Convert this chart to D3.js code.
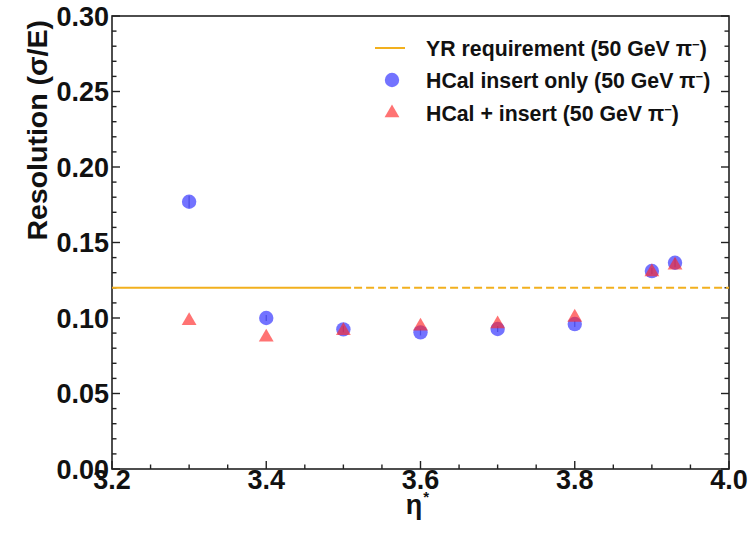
<!DOCTYPE html>
<html>
<head>
<meta charset="utf-8">
<script src="https://cdn.jsdelivr.net/npm/d3@7"></script>
<style>
  html, body { margin: 0; padding: 0; background: #fff; }
  svg { display: block; }
  text { font-family: "Liberation Sans", Arial, Helvetica, sans-serif; font-weight: bold; fill: #111; }
</style>
</head>
<body>
<script>
// Pseudorapidity bins
const etaValues = [3.3, 3.4, 3.5, 3.6, 3.7, 3.8, 3.9, 3.93];
// Energy resolution, HCal insert alone
const insertOnly = [0.177, 0.100, 0.0925, 0.0905, 0.0927, 0.0960, 0.1311, 0.1366];
const insertOnlyErr = [0.004, 0.002, 0.002, 0.002, 0.002, 0.002, 0.002, 0.003];
// Energy resolution, HCal + insert combined
const combined = [0.0982, 0.0872, 0.0916, 0.0945, 0.0960, 0.1004, 0.1305, 0.1349];
// Yellow Report requirement: solid over the covered range, dashed beyond
const yrLevel = 0.12;
const yrSolid = [3.2, 3.51];
const yrDashed = [3.51, 4.0];
// Axis ticks
const xTicks = [3.2, 3.4, 3.6, 3.8, 4.0];
const yTicks = [0.00, 0.05, 0.10, 0.15, 0.20, 0.25, 0.30];
const legendLabels = ["YR requirement (50 GeV ", "HCal insert only (50 GeV ", "HCal + insert (50 GeV "];

const W = 748, H = 538;
const mLeft = 112, mRight = 729, mTop = 16, mBottom = 469;

const svg = d3.select("body").append("svg").attr("width", W).attr("height", H);

const x = d3.scaleLinear().domain([3.2, 4.0]).range([mLeft, mRight]);
const y = d3.scaleLinear().domain([0, 0.30]).range([mBottom, mTop]);

const blue = "rgba(40,40,255,0.65)";
const red = "rgba(255,40,40,0.65)";
const gold = "#f2b01e";

// Frame
svg.append("rect").attr("x", mLeft).attr("y", mTop).attr("width", mRight - mLeft).attr("height", mBottom - mTop)
  .attr("fill", "none").attr("stroke", "#222").attr("stroke-width", 1.6);

// Inward tick marks (major + minor), left and right sides
const yMinor = d3.range(0, 0.3001, 0.01);
const xMinor = d3.range(3.2, 4.0001, 0.05);
const isMajorY = v => Math.abs(v / 0.05 - Math.round(v / 0.05)) < 1e-6;
const isMajorX = v => Math.abs((v - 3.2) / 0.2 - Math.round((v - 3.2) / 0.2)) < 1e-6;

const ticks = svg.append("g").attr("stroke", "#222").attr("stroke-width", 1.4);
yMinor.forEach(v => {
  const len = isMajorY(v) ? 8 : 4.5;
  ticks.append("line").attr("x1", mLeft).attr("x2", mLeft + len).attr("y1", y(v)).attr("y2", y(v));
  ticks.append("line").attr("x1", mRight).attr("x2", mRight - len).attr("y1", y(v)).attr("y2", y(v));
});
xMinor.forEach(v => {
  const len = isMajorX(v) ? 8 : 4.5;
  ticks.append("line").attr("x1", x(v)).attr("x2", x(v)).attr("y1", mBottom).attr("y2", mBottom - len);
});

// Tick labels
const tickFmt = d3.format(".2f");
svg.append("g").selectAll("text").data(yTicks).join("text")
  .attr("x", mLeft - 3).attr("y", d => y(d)).attr("dy", "0.36em")
  .attr("text-anchor", "end").attr("font-size", 27)
  .text(d => tickFmt(d));
svg.append("g").selectAll("text").data(xTicks).join("text")
  .attr("x", d => x(d)).attr("y", mBottom + 10).attr("dy", "0.36em")
  .attr("text-anchor", "middle").attr("font-size", 27)
  .text(d => d3.format(".1f")(d));

// Axis titles
svg.append("text").attr("transform", `translate(37,${mTop + 4}) rotate(-90)`)
  .attr("text-anchor", "end").attr("font-size", 28.5).attr("dy", "0.36em")
  .text("Resolution (σ/E)");
const xt = svg.append("text").attr("x", (mLeft + mRight) / 2 - 3).attr("y", 514)
  .attr("text-anchor", "middle").attr("font-size", 27);
xt.append("tspan").text("η");
xt.append("tspan").attr("dx", 1).attr("dy", -12).attr("font-size", 15).text("*");

// Requirement line
svg.append("line").attr("x1", x(yrSolid[0])).attr("x2", x(yrSolid[1]))
  .attr("y1", y(yrLevel)).attr("y2", y(yrLevel))
  .attr("stroke", gold).attr("stroke-width", 2);
svg.append("line").attr("x1", x(yrDashed[0])).attr("x2", x(yrDashed[1]))
  .attr("y1", y(yrLevel)).attr("y2", y(yrLevel))
  .attr("stroke", gold).attr("stroke-width", 2).attr("stroke-dasharray", "8,4")
  .attr("stroke-dashoffset", -3);

// Data
const ptsA = etaValues.map((e, i) => ({ e, v: insertOnly[i], err: insertOnlyErr[i] }));
const ptsB = etaValues.map((e, i) => ({ e, v: combined[i] }));

const tri = d3.symbol().type(d3.symbolTriangle).size(95);

svg.append("g").selectAll("circle").data(ptsA).join("circle")
  .attr("cx", d => x(d.e)).attr("cy", d => y(d.v)).attr("r", 7.2).attr("fill", blue);
svg.append("g").selectAll("line").data(ptsA).join("line")
  .attr("x1", d => x(d.e)).attr("x2", d => x(d.e))
  .attr("y1", d => y(d.v - d.err)).attr("y2", d => y(d.v + d.err))
  .attr("stroke", "rgba(40,40,200,0.5)").attr("stroke-width", 1.2);
svg.append("g").selectAll("path").data(ptsB).join("path")
  .attr("transform", d => `translate(${x(d.e)},${y(d.v)})`)
  .attr("d", tri).attr("fill", red);

// Legend
const lg = svg.append("g");
const lx = 392, textX = 426, rows = [48, 80, 113];
lg.append("line").attr("x1", lx - 17).attr("x2", lx + 13).attr("y1", rows[0]).attr("y2", rows[0])
  .attr("stroke", gold).attr("stroke-width", 2);
lg.append("circle").attr("cx", lx).attr("cy", rows[1]).attr("r", 7.2).attr("fill", blue);
lg.append("path").attr("transform", `translate(${lx},${rows[2]})`).attr("d", tri).attr("fill", red);
legendLabels.forEach((t, i) => {
  const tx = lg.append("text").attr("x", textX).attr("y", rows[i]).attr("dy", "0.36em").attr("font-size", 21.3);
  tx.append("tspan").text(t + "π");
  tx.append("tspan").attr("dy", -7).attr("font-size", 13).text("−");
  tx.append("tspan").attr("dy", 7).text(")");
});
</script>
</body>
</html>
